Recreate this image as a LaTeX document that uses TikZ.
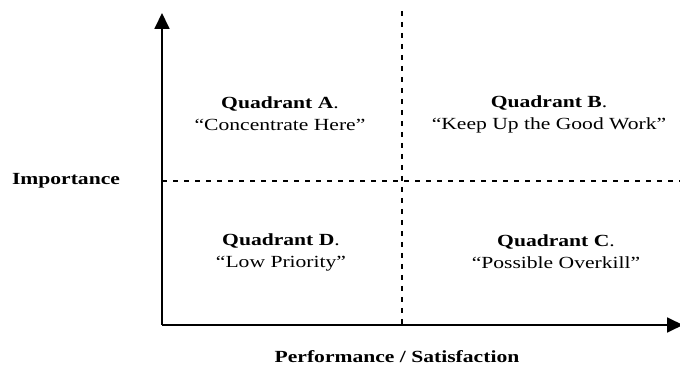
\documentclass[tikz,border=0pt]{standalone}
\usepackage{fontspec}
\setmainfont[FakeStretch=1.27]{Liberation Serif}
\usepackage{tikz}
\usetikzlibrary{arrows.meta}

\begin{document}
\begin{tikzpicture}[x=1pt, y=1pt,
    axis/.style={draw, line width=1.8pt, -{Triangle[width=15pt,length=16pt]}},
    split/.style={draw, line width=1.4pt, dash pattern=on 5pt off 6pt},
    quad/.style={align=center, font=\fontsize{17}{22}\selectfont},
    label/.style={font=\fontsize{17}{20}\selectfont\bfseries}]

    \useasboundingbox (-162,-57) rectangle (518,325);

    % Coordinates
    \coordinate (origin) at (0,0);
    \coordinate (ytop) at (0,312);
    \coordinate (xend) at (521,0);
    \coordinate (midtop) at (240,314);
    \coordinate (midbot) at (240,0);
    \coordinate (midleft) at (0,144);
    \coordinate (midright) at (520,144);

    % Nodes
    \node [quad] (qa) at (118,211) {\textbf{Quadrant A}.\\``Concentrate Here''};
    \node [quad] (qb) at (387,211) {\textbf{Quadrant B}.\\``Keep Up the Good Work''};
    \node [quad] (qd) at (119,73) {\textbf{Quadrant D}.\\``Low Priority''};
    \node [quad] (qc) at (394,73) {\textbf{Quadrant C}.\\``Possible Overkill''};
    \node [label] (imp) at (-96,144) {Importance};
    \node [label] (perf) at (235,-32) {Performance / Satisfaction};

    % Paths
    \path [split] (midtop) -- (midbot);
    \path [split] (midleft) -- (midright);
    \path [axis] (origin) -- (ytop);
    \path [axis] (origin) -- (xend);

\end{tikzpicture}
\end{document}
